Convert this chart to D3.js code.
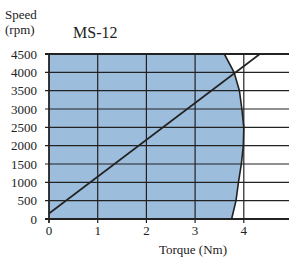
<!DOCTYPE html>
<html>
<head>
<meta charset="utf-8">
<script src="https://cdn.jsdelivr.net/npm/d3@7"></script>
<style>
  body { margin: 0; background: #fff; }
  text { font-family: "Liberation Serif", "DejaVu Serif", serif; fill: #222; }
</style>
</head>
<body>
<div id="chart"></div>
<script>
var width = 289,
    height = 258;

// curve: torque (Nm) at each speed (rpm)
var curveSpeed  = [0, 500, 1000, 1500, 2000, 2500, 3000, 3500, 4000, 4500];
var curveTorque = [3.75, 3.84, 3.89, 3.95, 3.99, 4.0, 3.96, 3.91, 3.8, 3.6];
// straight line
var lineTorque = [0, 4.33];
var lineSpeed  = [150, 4500];
var xTicks = [0, 1, 2, 3, 4, 5];
var yTicks = [0, 500, 1000, 1500, 2000, 2500, 3000, 3500, 4000, 4500];

var x = d3.scaleLinear().domain([0, 5]).range([49, 292.5]);
var y = d3.scaleLinear().domain([0, 4500]).range([219, 54]);

var svg = d3.select("#chart").append("svg")
  .attr("width", width)
  .attr("height", height);

var line = d3.line().x(function(d) { return x(d[0]); }).y(function(d) { return y(d[1]); });

//filled area
var pts = [[0, 0]].concat(curveSpeed.map(function(s, i) { return [curveTorque[i], s]; })).concat([[0, 4500]]);
svg.append("path")
  .datum(pts)
  .attr("d", line)
  .attr("fill", "#9dbddc");

//grid
svg.append("g").selectAll("line")
  .data(yTicks)
  .enter().append("line")
  .attr("x1", x(0) - 4).attr("x2", width)
  .attr("y1", function(d) { return y(d); })
  .attr("y2", function(d) { return y(d); })
  .attr("stroke", "#222")
  .attr("stroke-width", function(d) { return d == 0 || d == 4500 ? 1.8 : 1.2; });

svg.append("g").selectAll("line")
  .data(xTicks.filter(function(d) { return d < 5; }))
  .enter().append("line")
  .attr("x1", function(d) { return x(d); })
  .attr("x2", function(d) { return x(d); })
  .attr("y1", y(4500)).attr("y2", y(0) + 4)
  .attr("stroke", "#222")
  .attr("stroke-width", function(d) { return d == 0 ? 1.8 : 1.2; });

//curve and line
svg.append("path")
  .datum(curveSpeed.map(function(s, i) { return [curveTorque[i], s]; }))
  .attr("d", line)
  .attr("fill", "none")
  .attr("stroke", "#222")
  .attr("stroke-width", 1.6);

svg.append("path")
  .datum(lineTorque.map(function(t, i) { return [t, lineSpeed[i]]; }))
  .attr("d", line)
  .attr("fill", "none")
  .attr("stroke", "#222")
  .attr("stroke-width", 1.6);

//tick labels
svg.append("g").selectAll("text")
  .data(yTicks)
  .enter().append("text")
  .attr("x", 37)
  .attr("y", function(d) { return y(d) + 4.5; })
  .attr("text-anchor", "end")
  .style("font-size", "13px")
  .text(function(d) { return d; });

svg.append("g").selectAll("text")
  .data(xTicks)
  .enter().append("text")
  .attr("x", function(d) { return x(d); })
  .attr("y", 235)
  .attr("text-anchor", "middle")
  .style("font-size", "13px")
  .text(function(d) { return d; });

//titles
svg.append("text").attr("x", 5).attr("y", 19).style("font-size", "13px").text("Speed");
svg.append("text").attr("x", 5).attr("y", 34).style("font-size", "13px").text("(rpm)");
svg.append("text").attr("x", 73).attr("y", 38).style("font-size", "16px").text("MS-12");
svg.append("text").attr("x", 193).attr("y", 254).attr("text-anchor", "middle")
  .style("font-size", "13px").text("Torque (Nm)");
</script>
</body>
</html>
